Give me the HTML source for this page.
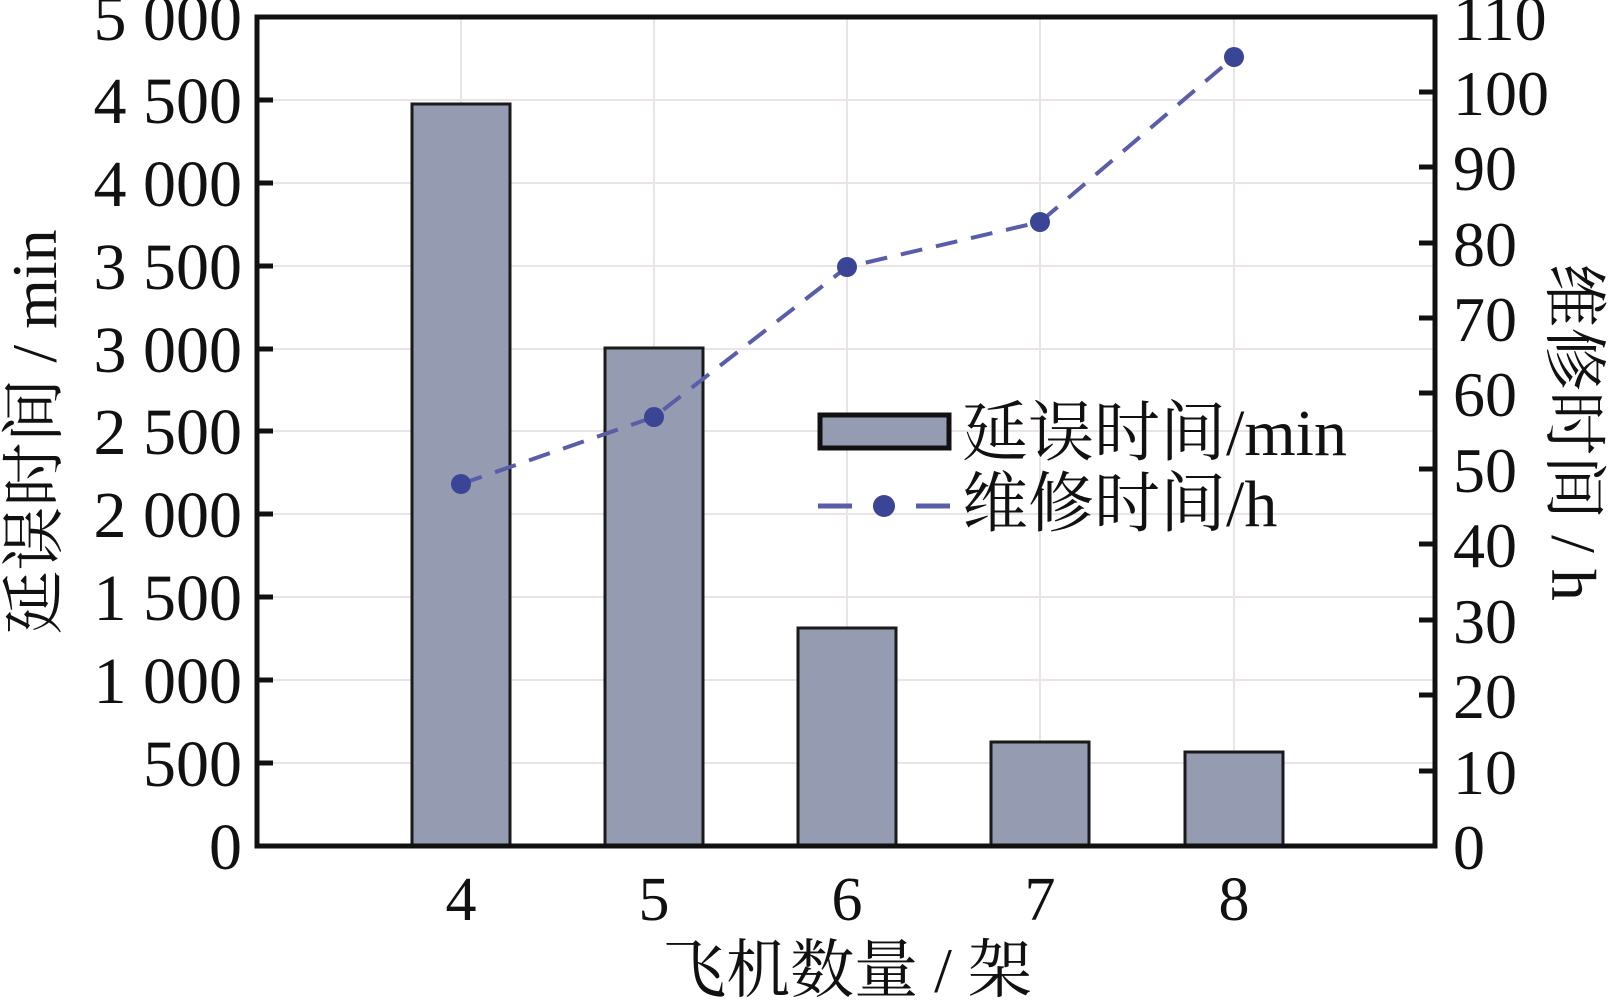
<!DOCTYPE html>
<html><head><meta charset="utf-8"><style>html,body{margin:0;padding:0;background:#fff}svg{display:block}</style></head>
<body>
<svg width="1610" height="1004" viewBox="0 0 1610 1004" xmlns="http://www.w3.org/2000/svg" font-family="'Liberation Serif','Noto Serif CJK SC',serif">
<g stroke="#ebe4e4" stroke-width="2">
<line x1="257" y1="100" x2="1435" y2="100"/><line x1="257" y1="183" x2="1435" y2="183"/><line x1="257" y1="266" x2="1435" y2="266"/><line x1="257" y1="349" x2="1435" y2="349"/><line x1="257" y1="431" x2="1435" y2="431"/><line x1="257" y1="514" x2="1435" y2="514"/><line x1="257" y1="597" x2="1435" y2="597"/><line x1="257" y1="680" x2="1435" y2="680"/><line x1="257" y1="763" x2="1435" y2="763"/>
<line x1="461" y1="17" x2="461" y2="846"/><line x1="654" y1="17" x2="654" y2="846"/><line x1="847" y1="17" x2="847" y2="846"/><line x1="1040" y1="17" x2="1040" y2="846"/><line x1="1234" y1="17" x2="1234" y2="846"/>
</g>
<g fill="#959bb0" stroke="#1a1a1a" stroke-width="3">
<rect x="412" y="104" width="98" height="742"/>
<rect x="605" y="348" width="98" height="498"/>
<rect x="798" y="628" width="98" height="218"/>
<rect x="991" y="742" width="98" height="104"/>
<rect x="1185" y="752" width="98" height="94"/>
</g>
<polyline points="461,484 654,417 847,267 1040,222 1234,57" fill="none" stroke="#5a5ea8" stroke-width="4" stroke-dasharray="22,14"/>
<g fill="#3a4596"><circle cx="461" cy="484" r="10"/><circle cx="654" cy="417" r="10"/><circle cx="847" cy="267" r="10"/><circle cx="1040" cy="222" r="10"/><circle cx="1234" cy="57" r="10"/></g>
<rect x="257" y="17" width="1178" height="829" fill="none" stroke="#111" stroke-width="5"/>
<g stroke="#111" stroke-width="5">
<line x1="257" y1="100" x2="273" y2="100"/><line x1="257" y1="183" x2="273" y2="183"/><line x1="257" y1="266" x2="273" y2="266"/><line x1="257" y1="349" x2="273" y2="349"/><line x1="257" y1="431" x2="273" y2="431"/><line x1="257" y1="514" x2="273" y2="514"/><line x1="257" y1="597" x2="273" y2="597"/><line x1="257" y1="680" x2="273" y2="680"/><line x1="257" y1="763" x2="273" y2="763"/>
<line x1="1419" y1="92" x2="1435" y2="92"/><line x1="1419" y1="167" x2="1435" y2="167"/><line x1="1419" y1="243" x2="1435" y2="243"/><line x1="1419" y1="318" x2="1435" y2="318"/><line x1="1419" y1="393" x2="1435" y2="393"/><line x1="1419" y1="469" x2="1435" y2="469"/><line x1="1419" y1="544" x2="1435" y2="544"/><line x1="1419" y1="620" x2="1435" y2="620"/><line x1="1419" y1="695" x2="1435" y2="695"/><line x1="1419" y1="771" x2="1435" y2="771"/>
</g>
<g font-size="66" fill="#111" text-anchor="end">
<text x="242" y="40">5 000</text><text x="242" y="123">4 500</text><text x="242" y="206">4 000</text><text x="242" y="289">3 500</text><text x="242" y="372">3 000</text><text x="242" y="454">2 500</text><text x="242" y="537">2 000</text><text x="242" y="620">1 500</text><text x="242" y="703">1 000</text><text x="242" y="786">500</text><text x="242" y="869">0</text>
</g>
<g font-size="64" fill="#111">
<text x="1453" y="40">110</text><text x="1453" y="115">100</text><text x="1453" y="190">90</text><text x="1453" y="266">80</text><text x="1453" y="341">70</text><text x="1453" y="416">60</text><text x="1453" y="492">50</text><text x="1453" y="567">40</text><text x="1453" y="643">30</text><text x="1453" y="718">20</text><text x="1453" y="794">10</text><text x="1453" y="869">0</text>
</g>
<g font-size="62" fill="#111" text-anchor="middle">
<text x="461" y="920">4</text><text x="654" y="920">5</text><text x="847" y="920">6</text><text x="1040" y="920">7</text><text x="1234" y="920">8</text>
<text x="847" y="992" font-size="64">飞机数量 / 架</text>
<text transform="translate(56,432) rotate(-90)" font-size="64">延误时间 / min</text>
<text transform="translate(1552,432) rotate(90)" font-size="64">维修时间 / h</text>
</g>
<rect x="820" y="415" width="129" height="33" fill="#959bb0" stroke="#111" stroke-width="5"/>
<line x1="818" y1="506" x2="852" y2="506" stroke="#5a5ea8" stroke-width="5"/>
<line x1="916" y1="506" x2="950" y2="506" stroke="#5a5ea8" stroke-width="5"/>
<circle cx="884" cy="506" r="11" fill="#3a4596"/>
<g font-size="66" fill="#111"><text x="962" y="455">延误时间/min</text><text x="962" y="526">维修时间/h</text></g>
</svg>
</body></html>
